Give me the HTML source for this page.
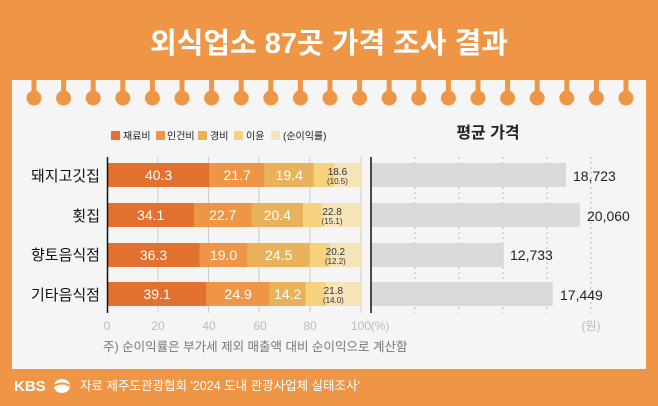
<!DOCTYPE html><html><head><meta charset="utf-8"><style>
body{margin:0;width:658px;height:406px;overflow:hidden;background:#EE9645;font-family:"Liberation Sans","Noto Sans CJK KR",sans-serif;position:relative}
.a{position:absolute}
</style></head><body>
<div class="a" style="left:0;top:20px;width:658px;text-align:center;color:#fff;font-size:29px;font-weight:bold;letter-spacing:0px">외식업소 87곳 가격 조사 결과</div>
<div class="a" style="left:12px;top:80px;width:634px;height:289px;background:#F5F5F5"></div>
<svg class="a" style="left:0;top:0" width="658" height="406">
<g fill="#EE9645" id="rings"></g>
</svg>
<svg class="a" style="left:0;top:0" width="658" height="406" font-family="Liberation Sans,Noto Sans CJK KR,sans-serif">
<g id="r"></g>
<!-- legend -->
<g font-size="10" fill="#222">
<rect x="111" y="131" width="9" height="9" fill="#E2702F"/><text x="123" y="139.5">재료비</text>
<rect x="156" y="131" width="9" height="9" fill="#EE9645"/><text x="167" y="139.5">인건비</text>
<rect x="198" y="131" width="9" height="9" fill="#E8B25A"/><text x="210" y="139.5">경비</text>
<rect x="234" y="131" width="9" height="9" fill="#F6D27F"/><text x="246" y="139.5">이윤</text>
<rect x="271" y="131" width="9" height="9" fill="#F4E4B8"/><text x="283" y="139.5">(순이익률)</text>
</g>
<g stroke="#ccc" stroke-width="1">
<line x1="158" y1="157" x2="158" y2="313"/><line x1="208.5" y1="157" x2="208.5" y2="313"/><line x1="259" y1="157" x2="259" y2="313"/><line x1="310" y1="157" x2="310" y2="313"/><line x1="361" y1="157" x2="361" y2="313"/>
</g>
<g stroke="#bbb" stroke-dasharray="2,3">
<line x1="415" y1="157" x2="415" y2="313"/><line x1="459" y1="157" x2="459" y2="313"/><line x1="503" y1="157" x2="503" y2="313"/><line x1="547" y1="157" x2="547" y2="313"/><line x1="591" y1="157" x2="591" y2="313"/>
</g>
<g id="bars"></g>
<line x1="107.5" y1="157" x2="107.5" y2="313" stroke="#111" stroke-width="1.5"/>
<line x1="371" y1="157" x2="371" y2="313" stroke="#111" stroke-width="1.5"/>
<g font-size="15" fill="#111" text-anchor="end">
<text x="100" y="181">돼지고깃집</text><text x="100" y="221">횟집</text><text x="100" y="260">향토음식점</text><text x="100" y="300">기타음식점</text>
</g>
<g font-size="12" fill="#bbb" text-anchor="middle">
<text x="107" y="330">0</text><text x="158" y="330">20</text><text x="209" y="330">40</text><text x="260" y="330">60</text><text x="310" y="330">80</text><text x="361" y="330">100</text><text x="380" y="330">(%)</text><text x="591" y="330">(원)</text>
</g>
<text x="103" y="351" font-size="12.5" fill="#777">주) 순이익률은 부가세 제외 매출액 대비 순이익으로 계산함</text>
<text x="488" y="138" font-size="16" fill="#222" text-anchor="middle" font-weight="bold">평균 가격</text>
<g font-size="14" fill="#222">
<text x="573" y="181">18,723</text><text x="587" y="221">20,060</text><text x="510" y="260">12,733</text><text x="560" y="300">17,449</text>
</g>
<text x="14" y="391" font-size="15" font-weight="bold" fill="#fff">KBS</text>
<ellipse cx="62" cy="386" rx="8" ry="7" fill="#fff"/><path d="M54 386 Q62 381 70 386" stroke="#EE9645" stroke-width="2" fill="none"/>
<text x="80" y="390" font-size="12.5" fill="#fff">자료 제주도관광협회 '2024 도내 관광사업체 실태조사'</text>
</svg>
<script>
var g=document.getElementById('rings'),s='';
for(var i=0;i<21;i++){var x=34+29.6*i;s+='<rect x="'+(x-2.5)+'" y="78" width="5" height="18"/><circle cx="'+x+'" cy="98" r="7.5"/>';}
g.innerHTML=s;
var rows=[[40.3,21.7,19.4,18.6,10.5,18723,163],[34.1,22.7,20.4,22.8,15.1,20060,203],[36.3,19.0,24.5,20.2,12.2,12733,243],[39.1,24.9,14.2,21.8,14.0,17449,282]];
var cols=['#E2702F','#EE9645','#E8B25A','#F6D27F'],b='';
rows.forEach(function(r){var x=107.5,y=r[6],k=2.535;
for(var j=0;j<3;j++){var w=r[j]*k;b+='<rect x="'+x+'" y="'+y+'" width="'+w+'" height="24" fill="'+cols[j]+'"/><text x="'+(x+w/2)+'" y="'+(y+17)+'" font-size="14" fill="#fff" text-anchor="middle">'+r[j].toFixed(1)+'</text>';x+=w;}
var w1=(r[3]-r[4])*k,w2=r[4]*k;b+='<rect x="'+x+'" y="'+y+'" width="'+w1+'" height="24" fill="#F6D27F"/><rect x="'+(x+w1)+'" y="'+y+'" width="'+w2+'" height="24" fill="#F4E4B8"/>';
var cx=x+(w1+w2)/2;b+='<text x="'+cx+'" y="'+(y+12)+'" font-size="10" fill="#333" text-anchor="middle">'+r[3].toFixed(1)+'</text><text x="'+cx+'" y="'+(y+21)+'" font-size="8" fill="#333" text-anchor="middle">('+r[4].toFixed(1)+')</text>';
b+='<rect x="372" y="'+y+'" width="'+(r[5]*0.01036)+'" height="24" fill="#D9D9D9"/>';});
document.getElementById('bars').innerHTML=b;
</script>
</body></html>
